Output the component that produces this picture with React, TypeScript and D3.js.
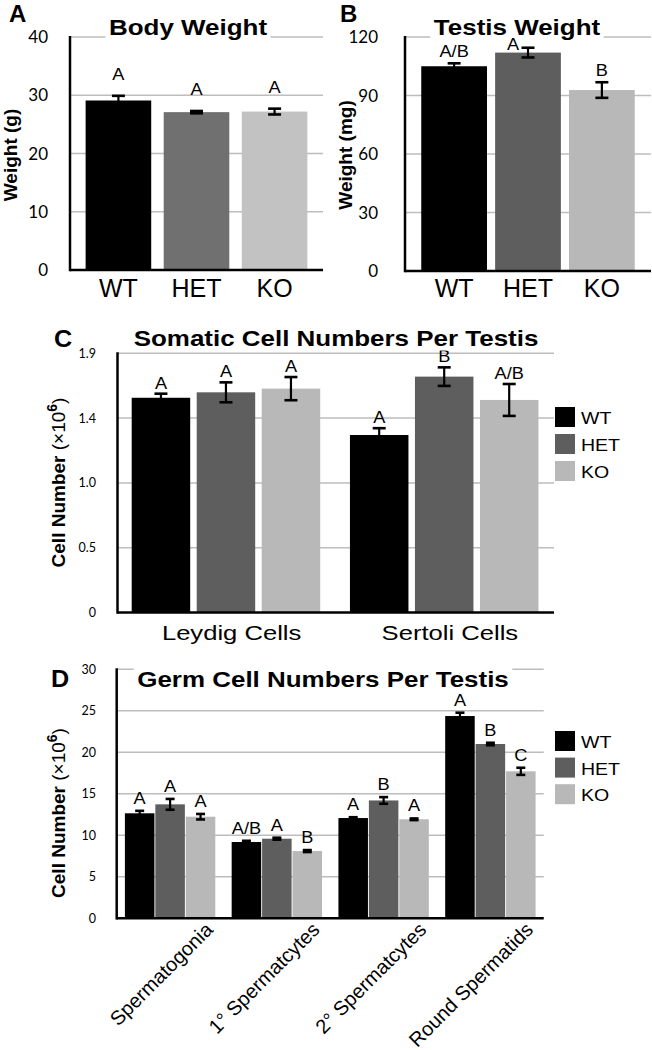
import React, { useLayoutEffect, useRef, useState } from "react";
import * as d3 from "d3";

// ---------------- DATA ----------------
const genotypes = ["WT", "HET", "KO"];

const bodyWeight = [29.1, 27.1, 27.2];
const bodyWeightErr = [0.8, 0.2, 0.5];
const bodyWeightSig = ["A", "A", "A"];
const bodyTicks = [0, 10, 20, 30, 40];

const testisWeight = [105, 112, 92.8];
const testisWeightErr = [1.5, 2.5, 4];
const testisWeightSig = ["A/B", "A", "B"];
const testisTicks = [0, 30, 60, 90, 120];
const testisSigNudge = [[0, 0], [-15, 8], [0, 0]];

const somaticCats = ["Leydig Cells", "Sertoli Cells"];
const somaticWT = [1.574, 1.301];
const somaticHET = [1.614, 1.729];
const somaticKO = [1.641, 1.558];
const somaticErrWT = [0.03, 0.05];
const somaticErrHET = [0.073, 0.068];
const somaticErrKO = [0.085, 0.117];
const somaticSigWT = ["A", "A"];
const somaticSigHET = ["A", "B"];
const somaticSigKO = ["A", "A/B"];
const somaticMax = 1.9;
const somaticTickLabels = ["0", "0.5", "1.0", "1.4", "1.9"];

const germCats = ["Spermatogonia", "1° Spermatcytes", "2° Spermatcytes", "Round Spermatids"];
const germWT = [12.65, 9.19, 12.08, 24.37];
const germHET = [13.73, 9.59, 14.2, 21.0];
const germKO = [12.24, 8.1, 11.93, 17.71];
const germErrWT = [0.3, 0.15, 0.1, 0.4];
const germErrHET = [0.65, 0.12, 0.4, 0.15];
const germErrKO = [0.33, 0.12, 0.1, 0.43];
const germSigWT = ["A", "A/B", "A", "A"];
const germSigHET = ["A", "A", "B", "B"];
const germSigKO = ["A", "B", "A", "C"];
const germTicks = [0, 5, 10, 15, 20, 25, 30];

// ---------------- STYLE ----------------
const SANS = "'Liberation Sans', Arial, Helvetica, sans-serif";
const TICKF = "Lato, 'Open Sans', sans-serif";
const GRID = "#bdbdbd";
const colorsA = ["#000000", "#707070", "#c2c2c2"];
const colorsB = ["#000000", "#5e5e5e", "#b8b8b8"];

function Txt({ x, y, children, size, sx = 1, anchor = "middle", weight = 400, family = SANS, rotate = 0 }: any) {
  return (
    <text
      transform={`translate(${x},${y}) rotate(${rotate}) scale(${sx},1)`}
      fontSize={size}
      fontFamily={family}
      fontWeight={weight}
      textAnchor={anchor}
      fill="#000"
    >
      {children}
    </text>
  );
}

function Title({ x, y, text }: any) {
  const ref = useRef<SVGTextElement>(null);
  const [bb, setBb] = useState<any>(null);
  useLayoutEffect(() => {
    if (ref.current) {
      const b = ref.current.getBBox();
      setBb({ x: b.x, y: b.y, width: b.width, height: b.height });
    }
  }, [text]);
  return (
    <g transform={`translate(${x},${y}) scale(1.18,1)`}>
      {bb && <rect x={bb.x - 3} y={bb.y} width={bb.width + 6} height={bb.height} fill="#fff" />}
      <text ref={ref} fontSize={22} fontWeight={700} fontFamily={SANS} textAnchor="middle" fill="#000">
        {text}
      </text>
    </g>
  );
}

function ErrBar({ x, yTop, yBot, cap }: any) {
  return (
    <g stroke="#000" strokeWidth={2.2}>
      <line x1={x} x2={x} y1={yTop} y2={yBot} />
      <line x1={x - cap / 2} x2={x + cap / 2} y1={yTop} y2={yTop} strokeWidth={2.6} />
      <line x1={x - cap / 2} x2={x + cap / 2} y1={yBot} y2={yBot} strokeWidth={2.6} />
    </g>
  );
}

function Axes({ x0, x1, yTop, yBot }: any) {
  return (
    <g stroke="#000" strokeWidth={2.5} fill="none">
      <line x1={x0} x2={x0} y1={yTop - 1} y2={yBot + 1.25} />
      <line x1={x0} x2={x1} y1={yBot} y2={yBot} />
    </g>
  );
}

function YLabel({ x, y, text, sup }: any) {
  return (
    <text transform={`translate(${x},${y}) rotate(-90)`} fontSize={19} fontFamily={SANS} fontWeight={700} textAnchor="middle" fill="#000">
      {text}
      {sup && (
        <>
          <tspan fontWeight={400}> (×10</tspan>
          <tspan fontSize={14} dy={-8}>6</tspan>
          <tspan fontWeight={400} dy={8}>)</tspan>
        </>
      )}
    </text>
  );
}

// ---------------- SIMPLE PANEL (A, B) ----------------
function SimplePanel(p: any) {
  const { x0, x1, yTop, yBot, max, ticks, values, errs, sigs, colors, tickX, sigGap, nudge } = p;
  const x = d3.scaleBand<string>().domain(genotypes).range([x0, x1]).paddingInner(p.padIn).paddingOuter(p.padOut);
  const y = d3.scaleLinear().domain([0, max]).range([yBot, yTop]);
  return (
    <g>
      {ticks.filter((t: number) => t > 0).map((t: number) => (
        <line key={t} x1={x0} x2={x1} y1={y(t)} y2={y(t)} stroke={GRID} strokeWidth={1.5} />
      ))}
      {ticks.map((t: number) => (
        <Txt key={t} x={tickX} y={y(t) + 6} size={17} anchor="end" family={TICKF}>{t}</Txt>
      ))}
      {genotypes.map((g, i) => (
        <rect key={g} x={x(g)} y={y(values[i])} width={x.bandwidth()} height={y(0) - y(values[i])} fill={colors[i]} />
      ))}
      {genotypes.map((g, i) => (
        <ErrBar key={g} x={x(g)! + x.bandwidth() / 2} yTop={y(values[i] + errs[i])} yBot={y(values[i] - errs[i])} cap={13} />
      ))}
      <Title x={p.titleX} y={35} text={p.title} />
      {genotypes.map((g, i) => (
        <Txt key={g} x={x(g)! + x.bandwidth() / 2 + (nudge ? nudge[i][0] : 0)} y={y(values[i] + errs[i]) - sigGap + (nudge ? nudge[i][1] : 0)} size={17} sx={1.07}>
          {sigs[i]}
        </Txt>
      ))}
      <Axes x0={x0} x1={x1} yTop={yTop} yBot={yBot} />
      {genotypes.map((g) => (
        <Txt key={g} x={x(g)! + x.bandwidth() / 2} y={297} size={25}>{g}</Txt>
      ))}
      <Txt x={p.letterX} y={22} size={24} weight={700} anchor="start">{p.letter}</Txt>
      <YLabel x={p.yLabelX} y={155} text={p.yLabel} />
    </g>
  );
}

// ---------------- GROUPED PANEL (C, D) ----------------
function GroupedPanel(p: any) {
  const { cats, x0, x1, yTop, yBot, max, tickVals, tickLabels, series, errs, sigs, inner, innerPad, cap, sigGap } = p;
  const xg = d3.scaleBand<string>().domain(cats).range([x0, x1]);
  const xs = d3.scaleBand<string>().domain(genotypes).range(inner).paddingInner(innerPad);
  const y = d3.scaleLinear().domain([0, max]).range([yBot, yTop]);
  return (
    <g>
      {tickVals.filter((t: number) => t > 0).map((t: number) => (
        <line key={t} x1={x0} x2={x1} y1={y(t)} y2={y(t)} stroke={GRID} strokeWidth={1.5} />
      ))}
      {tickVals.map((t: number, i: number) => (
        <Txt key={t} x={96} y={y(t) + 4.5} size={12.5} anchor="end" family={TICKF}>{tickLabels[i]}</Txt>
      ))}
      {cats.map((c: string, ci: number) =>
        genotypes.map((g, gi) => (
          <rect key={c + g} x={xg(c)! + xs(g)!} y={y(series[gi][ci])} width={xs.bandwidth()} height={y(0) - y(series[gi][ci])} fill={colorsB[gi]} />
        ))
      )}
      {cats.map((c: string, ci: number) =>
        genotypes.map((g, gi) => (
          <ErrBar key={c + g} x={xg(c)! + xs(g)! + xs.bandwidth() / 2} yTop={y(series[gi][ci] + errs[gi][ci])} yBot={y(series[gi][ci] - errs[gi][ci])} cap={cap} />
        ))
      )}
      {cats.map((c: string, ci: number) =>
        genotypes.map((g, gi) => (
          <Txt key={c + g} x={xg(c)! + xs(g)! + xs.bandwidth() / 2} y={y(series[gi][ci] + errs[gi][ci]) - sigGap} size={17} sx={1.07}>
            {sigs[gi][ci]}
          </Txt>
        ))
      )}
      <Title x={p.titleX} y={p.titleY} text={p.title} />
      <Axes x0={x0} x1={x1} yTop={yTop} yBot={yBot} />
      {genotypes.map((g, gi) => (
        <g key={g}>
          <rect x={555} y={p.legendY + gi * p.legendStep} width={20} height={20} fill={colorsB[gi]} />
          <Txt x={581} y={p.legendY + gi * p.legendStep + 17} size={17} sx={1.15} anchor="start">{g}</Txt>
        </g>
      ))}
      {p.rotated
        ? cats.map((c: string) => (
            <Txt key={c} x={xg(c)! + xg.bandwidth() / 2 + 44} y={931} size={20} anchor="end" rotate={-45}>{c}</Txt>
          ))
        : cats.map((c: string) => (
            <Txt key={c} x={xg(c)! + xg.bandwidth() / 2 + 5} y={640} size={21} sx={1.22}>{c}</Txt>
          ))}
      <Txt x={p.letterX} y={p.letterY} size={24} sx={1.05} weight={700} anchor="start">{p.letter}</Txt>
      <YLabel x={65} y={p.yLabelY} text="Cell Number" sup />
    </g>
  );
}

export default function App() {
  const somaticTickVals = somaticTickLabels.map((_, i) => (somaticMax * i) / (somaticTickLabels.length - 1));
  return (
    <svg width={652} height={1050} viewBox="0 0 652 1050" style={{ display: "block", position: "absolute", left: 0, top: 0, background: "#fff" }}>
      <rect width={652} height={1050} fill="#fff" />
      <SimplePanel
        letter="A" letterX={9} title="Body Weight" titleX={188} yLabel="Weight (g)" yLabelX={17}
        x0={70} x1={323} yTop={37} yBot={270} max={40} ticks={bodyTicks} tickX={48}
        values={bodyWeight} errs={bodyWeightErr} sigs={bodyWeightSig} colors={colorsA}
        padIn={0.16} padOut={0.2} sigGap={16}
      />
      <SimplePanel
        letter="B" letterX={340} title="Testis Weight" titleX={517} yLabel="Weight (mg)" yLabelX={352}
        x0={405} x1={651} yTop={37} yBot={271} max={120} ticks={testisTicks} tickX={378}
        values={testisWeight} errs={testisWeightErr} sigs={testisWeightSig} colors={colorsB}
        padIn={0.11} padOut={0.22} sigGap={6} nudge={testisSigNudge}
      />
      <GroupedPanel
        letter="C" letterX={54} letterY={347} title="Somatic Cell Numbers Per Testis" titleX={336} titleY={346}
        cats={somaticCats} x0={117.5} x1={554} yTop={353.3} yBot={612.5} max={somaticMax}
        tickVals={somaticTickVals} tickLabels={somaticTickLabels}
        series={[somaticWT, somaticHET, somaticKO]} errs={[somaticErrWT, somaticErrHET, somaticErrKO]}
        sigs={[somaticSigWT, somaticSigHET, somaticSigKO]}
        inner={[14.2, 202.7]} innerPad={0.1} cap={13} sigGap={5}
        legendY={407} legendStep={27} yLabelY={482.5}
      />
      <GroupedPanel
        letter="D" letterX={51} letterY={687} title="Germ Cell Numbers Per Testis" titleX={323} titleY={687}
        cats={germCats} x0={116.7} x1={543.75} yTop={669.3} yBot={918.3} max={30}
        tickVals={germTicks} tickLabels={germTicks.map(String)}
        series={[germWT, germHET, germKO]} errs={[germErrWT, germErrHET, germErrKO]}
        sigs={[germSigWT, germSigHET, germSigKO]}
        inner={[8.2, 98.6]} innerPad={0.03} cap={9} sigGap={7}
        legendY={731} legendStep={26.6} yLabelY={813} rotated
      />
    </svg>
  );
}
